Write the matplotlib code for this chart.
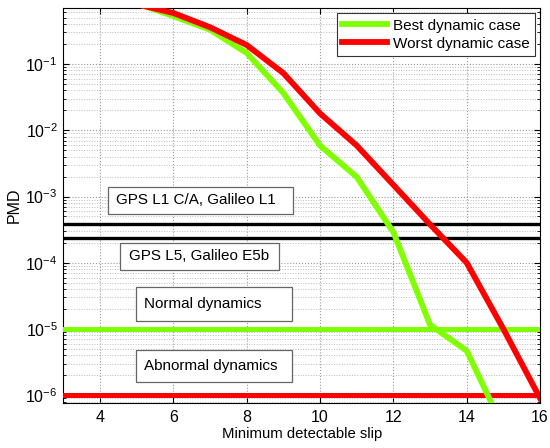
import matplotlib
matplotlib.use('Agg')
import matplotlib.pyplot as plt
from matplotlib.patches import Rectangle

plt.rcParams['font.family'] = ['Liberation Sans', 'DejaVu Sans']
plt.rcParams['mathtext.fontset'] = 'custom'
plt.rcParams['mathtext.rm'] = 'Liberation Sans'
plt.rcParams['mathtext.it'] = 'Liberation Sans'

# data
slip = [5, 6, 7, 8, 9, 10, 11, 12, 13, 14, 15, 16]
best_pmd = [0.82, 0.53, 0.33, 0.147, 0.0366, 0.0059, 0.00198, 2.9e-4, 1.16e-5, 4.7e-6, 3.2e-7, 1e-8]
worst_pmd = [0.8, 0.59, 0.36, 0.194, 0.073, 0.018, 0.0059, 1.5e-3, 3.8e-4, 1e-4, 1e-5, 9e-7]

l1_level = 3.8e-4
l5_level = 2.4e-4
normal_level = 1e-5
abnormal_level = 1e-6

box_labels = ['GPS L1 C/A, Galileo L1', 'GPS L5, Galileo E5b', 'Normal dynamics', 'Abnormal dynamics']

green = '#80FF00'
red = '#FF0000'

fig = plt.figure(figsize=(5.5, 4.48), dpi=100)
ax = fig.add_axes([0.115, 0.1, 0.867, 0.882])

ax.set_yscale('log')
ax.grid(True, which='major', linestyle=':', color='#999999', linewidth=0.8)
ax.grid(True, which='minor', linestyle=':', color='#bbbbbb', linewidth=0.7)

ax.plot(slip, best_pmd, color=green, lw=4.2, label='Best dynamic case', zorder=4)
ax.plot(slip, worst_pmd, color=red, lw=4.2, label='Worst dynamic case', zorder=5)

ax.axhline(l1_level, color='black', lw=2.4, zorder=3)
ax.axhline(l5_level, color='black', lw=2.4, zorder=3)
ax.axhline(normal_level, color=green, lw=3.6, zorder=3)
ax.axhline(abnormal_level, color=red, lw=3.6, zorder=3)

ax.set_xlim(3, 16)
ax.set_ylim(7.6e-7, 0.7)
ax.set_xticks([4, 6, 8, 10, 12, 14, 16])
ax.tick_params(which='both', direction='in', top=True, right=True, labelsize=11.5)
ax.tick_params(which='major', length=4)
ax.tick_params(axis='x', which='major', pad=5)
ax.tick_params(axis='y', which='major', pad=4)
ax.tick_params(which='minor', length=2)
ax.xaxis.get_offset_text().set_visible(False)
ax.yaxis.get_offset_text().set_visible(False)
for s in ax.spines.values():
    s.set_linewidth(0.8)

ax.set_xlabel('Minimum detectable slip', fontsize=10.7, labelpad=1)
ax.set_ylabel('PMD', fontsize=11.5)
ax.yaxis.set_label_coords(-0.087, 0.5)

# annotation boxes (axes fraction: x0, y0, x1, y1)
boxes = [(0.094, 0.479, 0.482, 0.547),
         (0.120, 0.338, 0.452, 0.406),
         (0.153, 0.209, 0.480, 0.295),
         (0.153, 0.053, 0.480, 0.134)]
for (x0, y0, x1, y1), txt in zip(boxes, box_labels):
    ax.add_patch(Rectangle((x0, y0), x1 - x0, y1 - y0, transform=ax.transAxes,
                           facecolor='white', edgecolor='#666666', lw=0.9, zorder=6))
    ax.text(x0 + 0.017, (y0 + y1) / 2, txt, transform=ax.transAxes,
            fontsize=11, va='center', ha='left', zorder=7)

leg = ax.legend(loc='upper right', fontsize=11, handlelength=2.9, fancybox=False,
                framealpha=1, edgecolor='#333333', borderaxespad=0.35,
                borderpad=0.35, labelspacing=0.25, handletextpad=0.4)
leg.get_frame().set_linewidth(0.8)

fig.savefig('out.png', dpi=100)
